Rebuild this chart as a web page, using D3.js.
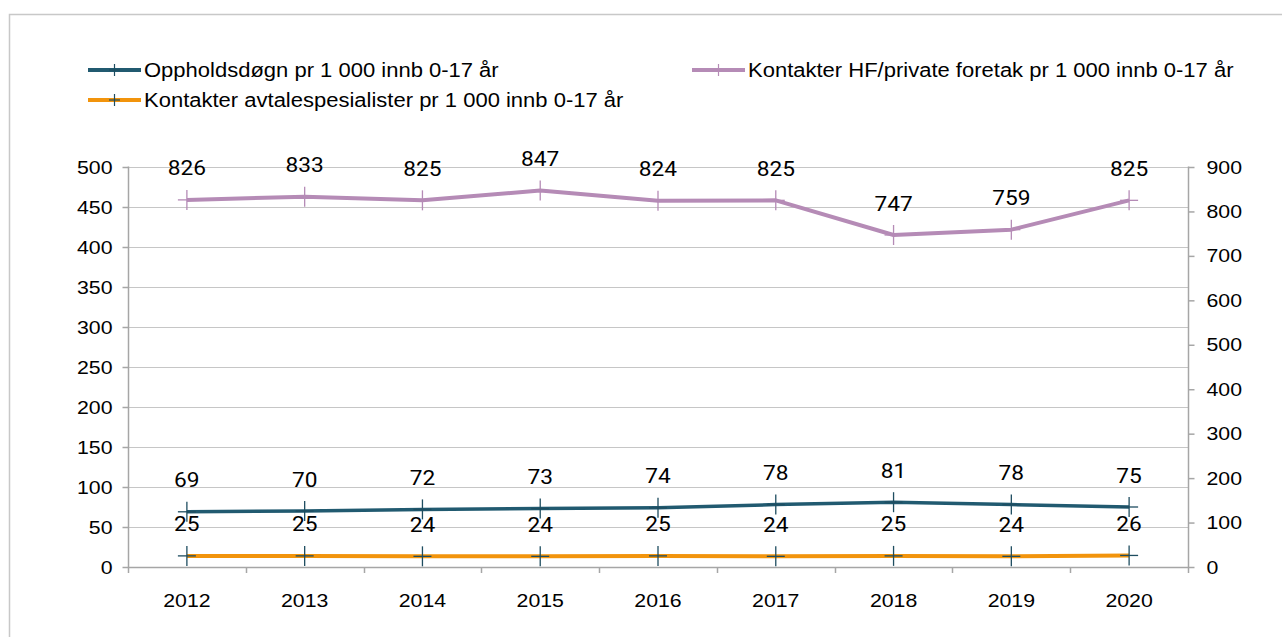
<!DOCTYPE html>
<html>
<head>
<meta charset="utf-8">
<script src="https://cdn.jsdelivr.net/npm/d3@7/dist/d3.min.js"></script>
<style>
  html, body { margin: 0; padding: 0; background: #fff; }
  svg { display: block; }
</style>
</head>
<body>
<svg id="chart" width="1282" height="637"></svg>
<script>
// Years on the category axis
const years = ["2012", "2013", "2014", "2015", "2016", "2017", "2018", "2019", "2020"];
// Left axis series
const oppholdsdogn = [69, 70, 72, 73, 74, 78, 81, 78, 75];
// Right axis series
const kontakterHF = [826, 833, 825, 847, 824, 825, 747, 759, 825];
const kontakterAvtale = [25, 25, 24, 24, 25, 24, 25, 24, 26];
// Axis ticks
const leftTicks = [0, 50, 100, 150, 200, 250, 300, 350, 400, 450, 500];
const rightTicks = [0, 100, 200, 300, 400, 500, 600, 700, 800, 900];

const seriesNames = [
  "Oppholdsdøgn pr 1 000 innb 0-17 år",
  "Kontakter HF/private foretak pr 1 000 innb 0-17 år",
  "Kontakter avtalespesialister pr 1 000 innb 0-17 år"
];

const svg = d3.select("#chart");
const axisFont = "'Liberation Sans', Arial, sans-serif";
const labelFont = "Roboto, 'Liberation Sans', sans-serif";
const gridColor = "#c6c6c6";
const axisColor = "#a6a6a6";

// widen glyphs slightly, keeping the anchor in place
function widen(sel, factor) {
  sel.each(function () {
    const w = this.getComputedTextLength();
    d3.select(this).attr("textLength", w * factor).attr("lengthAdjust", "spacingAndGlyphs");
  });
}

// outer frame
svg.append("rect")
  .attr("x", 9.5).attr("y", 14.5)
  .attr("width", 1400).attr("height", 700)
  .attr("fill", "none").attr("stroke", "#c8c8c8").attr("stroke-width", 1.5);

const plot = { left: 128, right: 1188, top: 167, bottom: 567 };

const x = d3.scaleBand().domain(years).range([plot.left, plot.right]);
const yL = d3.scaleLinear().domain([0, 500]).range([plot.bottom, plot.top]);
const yR = d3.scaleLinear().domain([0, 900]).range([plot.bottom, plot.top]);
const cx = d => x(d) + x.bandwidth() / 2;

// gridlines
svg.append("g").selectAll("line").data(leftTicks.filter(d => d > 0)).join("line")
  .attr("x1", plot.left).attr("x2", plot.right)
  .attr("y1", d => Math.round(yL(d)) + 0.5).attr("y2", d => Math.round(yL(d)) + 0.5)
  .attr("stroke", gridColor).attr("stroke-width", 1);

// left axis
const gL = svg.append("g").attr("transform", `translate(${plot.left + 0.5},0)`)
  .call(d3.axisLeft(yL).tickValues(leftTicks).tickSize(6).tickPadding(10));
// right axis
const gR = svg.append("g").attr("transform", `translate(${plot.right + 0.5},0)`)
  .call(d3.axisRight(yR).tickValues(rightTicks).tickSize(6).tickPadding(12));
// bottom axis
const gB = svg.append("g").attr("transform", `translate(0,${plot.bottom + 0.5})`)
  .call(d3.axisBottom(x).tickSize(0).tickPadding(26));
// category boundary ticks
svg.append("g").selectAll("line").data(d3.range(years.length + 1)).join("line")
  .attr("x1", i => Math.round(plot.left + i * x.step()) + 0.5)
  .attr("x2", i => Math.round(plot.left + i * x.step()) + 0.5)
  .attr("y1", plot.bottom).attr("y2", plot.bottom + 6)
  .attr("stroke", axisColor).attr("stroke-width", 1.5);

[gL, gR, gB].forEach(g => {
  g.selectAll(".domain").attr("stroke", axisColor).attr("stroke-width", 1.5);
  g.selectAll(".tick line").attr("stroke", axisColor).attr("stroke-width", 1.5);
  g.selectAll("text").attr("font-family", axisFont).attr("font-size", 19).attr("fill", "#000");
  widen(g.selectAll("text"), 1.12);
});
gB.select(".domain").attr("d", `M${plot.left},0H${plot.right}`);
gL.select(".domain").attr("d", `M0,${plot.top - 0.5}V${plot.bottom}`);
gR.select(".domain").attr("d", `M0,${plot.top - 0.5}V${plot.bottom}`);

const series = [
  { values: oppholdsdogn, y: yL, color: "#215a70", marker: "#1e4d60", width: 3.5 },
  { values: kontakterHF, y: yR, color: "#b58bb6", marker: "#b58bb6", width: 4 },
  { values: kontakterAvtale, y: yR, color: "#f2940c", marker: "#1e4d60", width: 4 }
];

const line = (s) => d3.line().x((d, i) => cx(years[i])).y(d => s.y(d));

series.forEach(s => {
  svg.append("path").datum(s.values)
    .attr("d", line(s))
    .attr("fill", "none").attr("stroke", s.color)
    .attr("stroke-width", s.width).attr("stroke-linejoin", "round");
  const m = svg.append("g");
  s.values.forEach((v, i) => {
    const px = cx(years[i]), py = s.y(v);
    m.append("line").attr("x1", px - 9).attr("x2", px + 9).attr("y1", py).attr("y2", py)
      .attr("stroke", s.marker).attr("stroke-width", 1.3);
    m.append("line").attr("x1", px).attr("x2", px).attr("y1", py - 10).attr("y2", py + 10)
      .attr("stroke", s.marker).attr("stroke-width", 1.3);
  });
});

// value labels
series.forEach(s => {
  const t = svg.append("g").selectAll("text").data(s.values).join("text")
    .attr("x", (d, i) => cx(years[i]))
    .attr("y", d => s.y(d) - 24.5)
    .attr("text-anchor", "middle")
    .attr("font-family", labelFont).attr("font-size", 21).attr("fill", "#000")
    .text(d => d);
  widen(t, 1.08);
});

// legend
const legendItems = [
  { name: seriesNames[0], color: series[0].color, marker: series[0].marker, x: 88, y: 70 },
  { name: seriesNames[1], color: series[1].color, marker: series[1].marker, x: 692, y: 70 },
  { name: seriesNames[2], color: series[2].color, marker: series[2].marker, x: 88, y: 100 }
];
const lg = svg.append("g");
legendItems.forEach(it => {
  lg.append("line").attr("x1", it.x).attr("x2", it.x + 53).attr("y1", it.y).attr("y2", it.y)
    .attr("stroke", it.color).attr("stroke-width", 4);
  lg.append("line").attr("x1", it.x + 26.5).attr("x2", it.x + 26.5).attr("y1", it.y - 6).attr("y2", it.y + 6)
    .attr("stroke", it.marker).attr("stroke-width", 1.2);
  lg.append("line").attr("x1", it.x + 21).attr("x2", it.x + 32).attr("y1", it.y).attr("y2", it.y)
    .attr("stroke", it.marker).attr("stroke-width", 1.2);
  const t = lg.append("text").attr("x", it.x + 56).attr("y", it.y + 7)
    .attr("font-family", axisFont).attr("font-size", 20).attr("fill", "#000")
    .text(it.name);
  widen(t, 1.1);
});
</script>
</body>
</html>
